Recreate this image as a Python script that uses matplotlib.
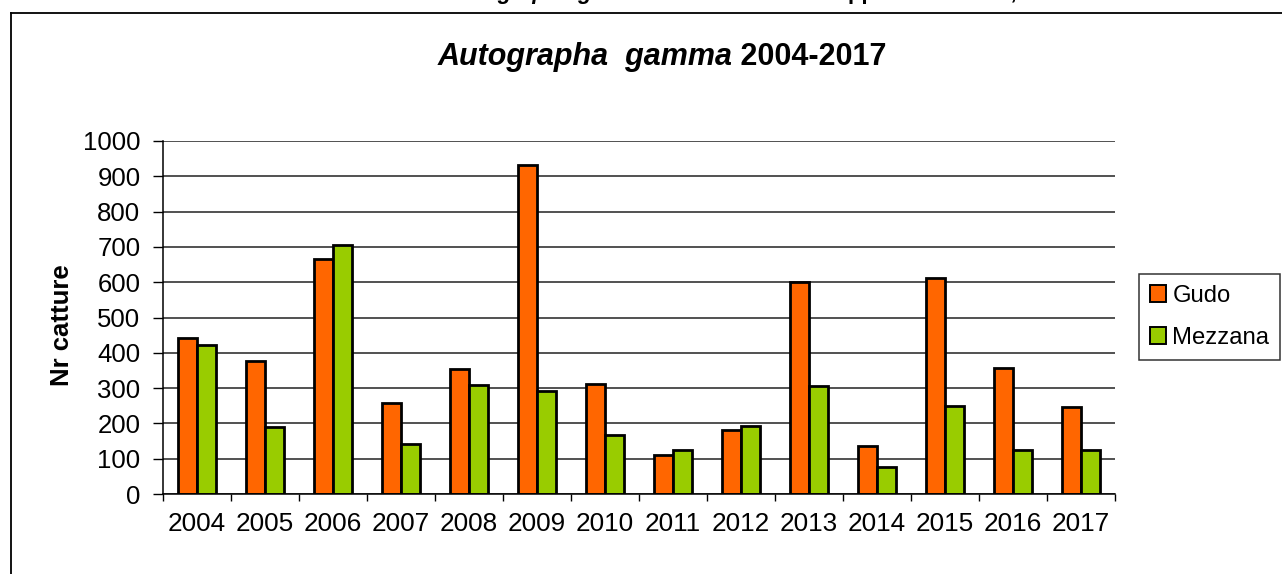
import matplotlib
matplotlib.use("Agg")
import matplotlib.pyplot as plt
from matplotlib.lines import Line2D
from matplotlib.patches import Patch
import numpy as np

# Catture annuali per stazione
years = ["2004", "2005", "2006", "2007", "2008", "2009", "2010",
         "2011", "2012", "2013", "2014", "2015", "2016", "2017"]
gudo = [443, 376, 666, 258, 353, 933, 312, 110, 182, 601, 135, 612, 356, 246]
mezzana = [422, 189, 706, 142, 309, 291, 167, 124, 193, 306, 76, 250, 126, 126]
y_ticks = [0, 100, 200, 300, 400, 500, 600, 700, 800, 900, 1000]

series_names = ["Gudo", "Mezzana"]
colors = ["#FF6600", "#99CC00"]

W, H, DPI = 1282, 574, 100
FONT = "Liberation Sans"
plt.rcParams["font.family"] = [FONT, "DejaVu Sans"]

fig = plt.figure(figsize=(W / DPI, H / DPI), dpi=DPI)
fig.patch.set_facecolor("white")


def fx(px):
    return px / W


def fy(py):
    return 1 - py / H


ax = fig.add_axes([fx(163), fy(494), fx(1115) - fx(163), fy(141) - fy(494)])

x = np.arange(len(years))
w = 1 / 3.5
ax.bar(x - w / 2, gudo, width=w, color=colors[0], edgecolor="black",
       linewidth=2.0, zorder=3)
ax.bar(x + w / 2, mezzana, width=w, color=colors[1], edgecolor="black",
       linewidth=2.0, zorder=3)

ax.set_xlim(-0.5, len(years) - 0.5)
ax.set_ylim(0, 1000)
ax.set_yticks(y_ticks)
ax.set_yticklabels([str(v) for v in y_ticks])
ax.yaxis.grid(True, color="#333333", linewidth=1.2, zorder=0)
ax.set_axisbelow(True)

# major x ticks between the categories, labels on minor ticks
ax.set_xticks(np.arange(-0.5, len(years), 1.0))
ax.set_xticklabels([])
ax.set_xticks(x, minor=True)
ax.set_xticklabels(years, minor=True)
ax.tick_params(axis="x", which="major", direction="out", length=5, width=1,
               color="black")
ax.tick_params(axis="x", which="minor", length=0, pad=13, labelsize=18.8)
ax.tick_params(axis="y", direction="out", length=7.2, width=1, color="black",
               pad=9, labelsize=18.5)

for s in ["top", "right"]:
    ax.spines[s].set_visible(False)
for s in ["left", "bottom"]:
    ax.spines[s].set_color("black")
    ax.spines[s].set_linewidth(1.1)
    ax.spines[s].set_zorder(4)

# outer frame of the chart area
fig.add_artist(Line2D([fx(10.5), 1], [fy(12.5), fy(12.5)], color="black",
                      linewidth=1.3, transform=fig.transFigure))
fig.add_artist(Line2D([fx(10.5), fx(10.5)], [0, fy(12.5)], color="black",
                      linewidth=1.3, transform=fig.transFigure))

renderer = fig.canvas.get_renderer()


def rich_text(pieces, x_px, y_px, size, align="center"):
    """Draw consecutive text pieces with mixed styles on one baseline."""
    arts = []
    for txt, style, weight in pieces:
        t = fig.text(0, fy(y_px), txt, fontsize=size, fontstyle=style,
                     fontweight=weight, va="baseline", ha="left",
                     family=FONT)
        arts.append(t)
    widths = [a.get_window_extent(renderer).width for a in arts]
    total = sum(widths)
    start = x_px - total / 2 if align == "center" else x_px
    pos = start
    for a, wd in zip(arts, widths):
        a.set_x(fx(pos))
        pos += wd
    return arts


# caption running above the frame; only its lowest strokes fall inside
rich_text([("Catture di ", "normal", "bold"),
           ("Autographa gamma", "italic", "bold"),
           (" catturate nelle trappole luminose, 2004-2017", "normal", "bold")],
          338, -1.5, 16, align="left")

# title
rich_text([("Autographa  gamma", "italic", "bold"),
           (" 2004-2017", "normal", "bold")], 662, 65, 22)

fig.text(fx(62), fy(325), "Nr catture", rotation=90, fontsize=18.5,
         fontweight="bold", ha="center", va="center")

handles = [Patch(facecolor=c, edgecolor="black", linewidth=1.4) for c in colors]
leg = fig.legend(handles, series_names, loc="upper left",
                 bbox_to_anchor=(fx(1139), fy(274)), fontsize=17.2,
                 frameon=True, fancybox=False, shadow=False,
                 handlelength=0.7, handleheight=0.7, handletextpad=0.25,
                 labelspacing=0.85, borderpad=0.45, borderaxespad=0)
leg.get_frame().set_edgecolor("black")
leg.get_frame().set_linewidth(1.1)

fig.savefig("out.png", dpi=DPI)
